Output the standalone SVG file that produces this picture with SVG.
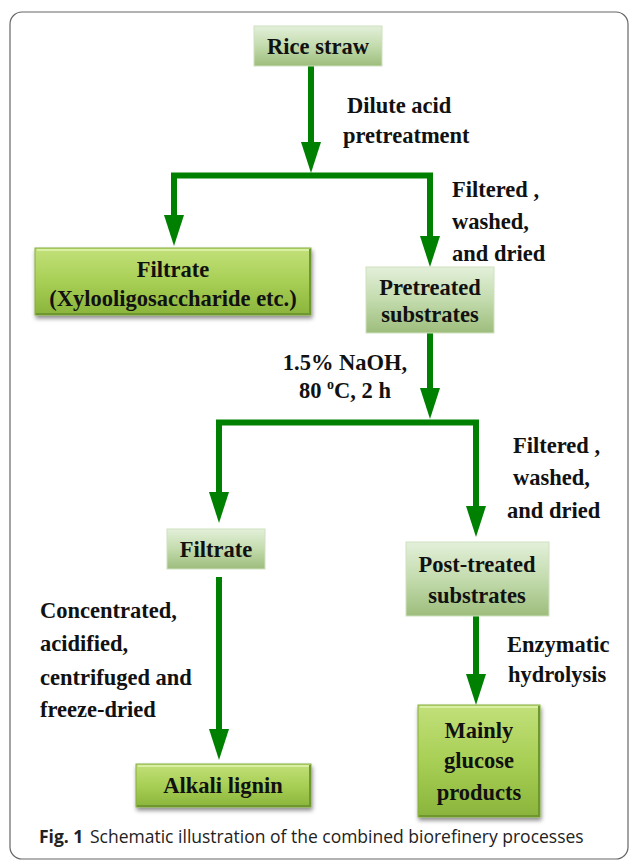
<svg xmlns="http://www.w3.org/2000/svg" width="630" height="860" viewBox="0 0 630 860">
<defs>
<linearGradient id="gLight" x1="0" y1="0" x2="0" y2="1">
<stop offset="0" stop-color="#e3f0da"/>
<stop offset="0.5" stop-color="#c3dbad"/>
<stop offset="1" stop-color="#9dbd7c"/>
</linearGradient>
<linearGradient id="gBright" x1="0" y1="0" x2="0" y2="1">
<stop offset="0" stop-color="#c2e07a"/>
<stop offset="0.5" stop-color="#a8cf55"/>
<stop offset="1" stop-color="#8ab43c"/>
</linearGradient>
<filter id="shadow" x="-10%" y="-10%" width="125%" height="135%">
<feDropShadow dx="1" dy="3" stdDeviation="2" flood-color="#000" flood-opacity="0.45"/>
</filter>
<marker id="head" markerUnits="userSpaceOnUse" markerWidth="32" markerHeight="22" refX="0" refY="10" orient="auto-start-reverse" viewBox="0 0 32 20">
<path d="M0,0 L31,10 L0,20 Z" fill="#008000"/>
</marker>
</defs>
<style>
.t{font-family:"Liberation Serif","Times New Roman",serif;font-weight:bold;font-size:22.5px;fill:#111}
.c{text-anchor:middle}
.light{fill:url(#gLight);stroke:#cfe0c0;stroke-width:1}
.bright{fill:url(#gBright);stroke:#86ad3e;stroke-width:1;filter:url(#shadow)}
.hi{fill:none;stroke:#d9efa4;stroke-width:2}
.lo{fill:none;stroke:#6f9730;stroke-width:2}
.conn{fill:none;stroke:#008000;stroke-width:6;stroke-linejoin:miter}
.cap{font-family:"Open Sans","Noto Sans",sans-serif;font-size:17.5px;fill:#222}
</style>

<rect x="10" y="12" width="618" height="847" rx="12" ry="12" fill="#fff" stroke="#666" stroke-width="1.2"/>

<g id="connectors">
<path class="conn" d="M311,66 V142" marker-end="url(#head)"/>
<path class="conn" d="M174,215 V175.5 H430 V236" marker-start="url(#head)" marker-end="url(#head)"/>
<path class="conn" d="M430,333 V388" marker-end="url(#head)"/>
<path class="conn" d="M219,492 V422.5 H476 V506" marker-start="url(#head)" marker-end="url(#head)"/>
<path class="conn" d="M219,577 V729" marker-end="url(#head)"/>
<path class="conn" d="M476,616 V674" marker-end="url(#head)"/>
</g>

<g id="rice-straw">
<rect class="light" x="254" y="26" width="128" height="40"/>
<text class="t c" x="318" y="54">Rice straw</text>
</g>

<g id="filtrate-xylo">
<rect class="bright" x="35" y="248" width="276" height="67"/>
<path class="hi" d="M37,250 H309"/>
<path class="lo" d="M36,314 H310 V249"/>
<text class="t c" x="173" y="277">Filtrate</text>
<text class="t c" x="173" y="306">(Xylooligosaccharide etc.)</text>
</g>

<g id="pretreated">
<rect class="light" x="366" y="267" width="128" height="66"/>
<text class="t c" x="430" y="295">Pretreated</text>
<text class="t c" x="430" y="322">substrates</text>
</g>

<g id="filtrate">
<rect class="light" x="167" y="529" width="98" height="40"/>
<text class="t c" x="216" y="557">Filtrate</text>
</g>

<g id="post-treated">
<rect class="light" x="406" y="542" width="143" height="74"/>
<text class="t c" x="477" y="572">Post-treated</text>
<text class="t c" x="477" y="603">substrates</text>
</g>

<g id="alkali-lignin">
<rect class="bright" x="136" y="764" width="175" height="43"/>
<path class="hi" d="M138,766 H309"/>
<path class="lo" d="M137,806 H310 V765"/>
<text class="t c" x="223" y="793">Alkali lignin</text>
</g>

<g id="glucose">
<rect class="bright" x="418" y="705" width="122" height="112"/>
<path class="hi" d="M420,707 H538"/>
<path class="lo" d="M419,816 H539 V706"/>
<text class="t c" x="479" y="738">Mainly</text>
<text class="t c" x="479" y="768">glucose</text>
<text class="t c" x="479" y="800">products</text>
</g>

<g id="labels">
<text class="t" x="347" y="113">Dilute acid</text>
<text class="t" x="343" y="143">pretreatment</text>
<text class="t" x="452" y="197">Filtered ,</text>
<text class="t" x="452" y="229">washed,</text>
<text class="t" x="452" y="261">and dried</text>
<text class="t c" x="345" y="370">1.5% NaOH,</text>
<text class="t c" x="345" y="398">80 <tspan font-size="14" dy="-9">o</tspan><tspan dy="9">C, 2 h</tspan></text>
<text class="t" x="513" y="453">Filtered ,</text>
<text class="t" x="513" y="485">washed,</text>
<text class="t" x="507" y="518">and dried</text>
<text class="t" x="40" y="618">Concentrated,</text>
<text class="t" x="40" y="651">acidified,</text>
<text class="t" x="40" y="685">centrifuged and</text>
<text class="t" x="40" y="717">freeze-dried</text>
<text class="t" x="507" y="652">Enzymatic</text>
<text class="t" x="508" y="682">hydrolysis</text>
</g>

<text class="cap" x="39" y="843"><tspan font-weight="bold">Fig. 1</tspan><tspan x="90">Schematic illustration of the combined biorefinery processes</tspan></text>
</svg>
